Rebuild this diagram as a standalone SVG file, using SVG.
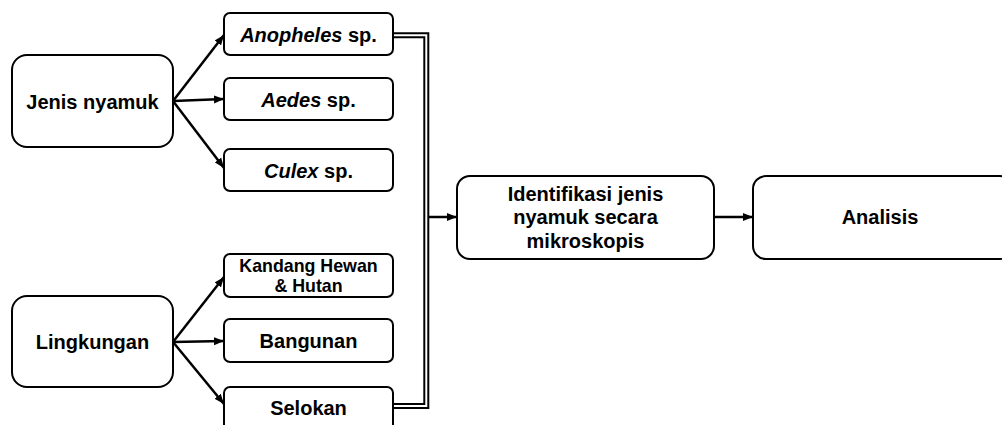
<svg xmlns="http://www.w3.org/2000/svg" width="1002" height="425" viewBox="0 0 1002 425">
<style>
.box{fill:#fff;stroke:#000;stroke-width:2}
.t{font-family:"Liberation Sans",Arial,sans-serif;font-weight:bold;font-size:20px;fill:#000;text-anchor:middle}
.s{font-size:17.8px}
.c{fill:none;stroke:#000;stroke-width:2.5}
.dbl{fill:none;stroke:#000;stroke-width:6}
.dbl2{fill:none;stroke:#fff;stroke-width:2}
</style>
<defs>
<marker id="ah" markerUnits="userSpaceOnUse" markerWidth="11" markerHeight="9" refX="10" refY="4.5" orient="auto">
<path d="M0,0.5 L10,4.5 L0,8.5 z" fill="#000"/>
</marker>
</defs>
<rect width="1002" height="425" fill="#fff"/>
<g id="connectors">
<line class="c" x1="173" y1="101" x2="224" y2="35" marker-end="url(#ah)"/>
<line class="c" x1="173" y1="101" x2="224" y2="99" marker-end="url(#ah)"/>
<line class="c" x1="173" y1="101" x2="224" y2="168" marker-end="url(#ah)"/>
<line class="c" x1="173" y1="342" x2="224" y2="277" marker-end="url(#ah)"/>
<line class="c" x1="173" y1="342" x2="224" y2="341" marker-end="url(#ah)"/>
<line class="c" x1="173" y1="342" x2="224" y2="404" marker-end="url(#ah)"/>
<path class="dbl" d="M393,35.3 H426.3 V406 H393"/>
<path class="dbl2" d="M393,35.3 H426.3 V406 H393"/>
<line class="c" x1="429" y1="217" x2="457" y2="217" marker-end="url(#ah)"/>
<line class="c" x1="714" y1="217" x2="753" y2="217" marker-end="url(#ah)"/>
</g>
<g id="jenis">
<rect class="box" x="12" y="55" width="161" height="92" rx="15"/>
<text class="t" x="92.5" y="108.5">Jenis nyamuk</text>
</g>
<g id="anopheles">
<rect class="box" x="224" y="13" width="169" height="42" rx="6"/>
<text class="t" x="308.5" y="41.5"><tspan font-style="italic">Anopheles</tspan> sp.</text>
</g>
<g id="aedes">
<rect class="box" x="224" y="78" width="169" height="42" rx="6"/>
<text class="t" x="308.5" y="106.5"><tspan font-style="italic">Aedes</tspan> sp.</text>
</g>
<g id="culex">
<rect class="box" x="224" y="149" width="169" height="42" rx="6"/>
<text class="t" x="308.5" y="177.5"><tspan font-style="italic">Culex</tspan> sp.</text>
</g>
<g id="lingkungan">
<rect class="box" x="12" y="296" width="161" height="91" rx="15"/>
<text class="t" x="92.5" y="348.5">Lingkungan</text>
</g>
<g id="kandang">
<rect class="box" x="224" y="254" width="169" height="43" rx="6"/>
<text class="t s" x="308.5" y="272">Kandang Hewan</text>
<text class="t s" x="308.5" y="292">&amp; Hutan</text>
</g>
<g id="bangunan">
<rect class="box" x="224" y="319" width="169" height="43" rx="6"/>
<text class="t" x="308.5" y="347.5">Bangunan</text>
</g>
<g id="selokan">
<rect class="box" x="224" y="387" width="169" height="50" rx="6"/>
<text class="t" x="308.5" y="415">Selokan</text>
</g>
<g id="identifikasi">
<rect class="box" x="457" y="176" width="257" height="83" rx="13"/>
<text class="t" x="585.5" y="200.5">Identifikasi jenis</text>
<text class="t" x="585.5" y="224">nyamuk secara</text>
<text class="t" x="585.5" y="247.5">mikroskopis</text>
</g>
<g id="analisis">
<rect class="box" x="753" y="176" width="260" height="83" rx="13"/>
<text class="t" x="880" y="224">Analisis</text>
</g>
</svg>
